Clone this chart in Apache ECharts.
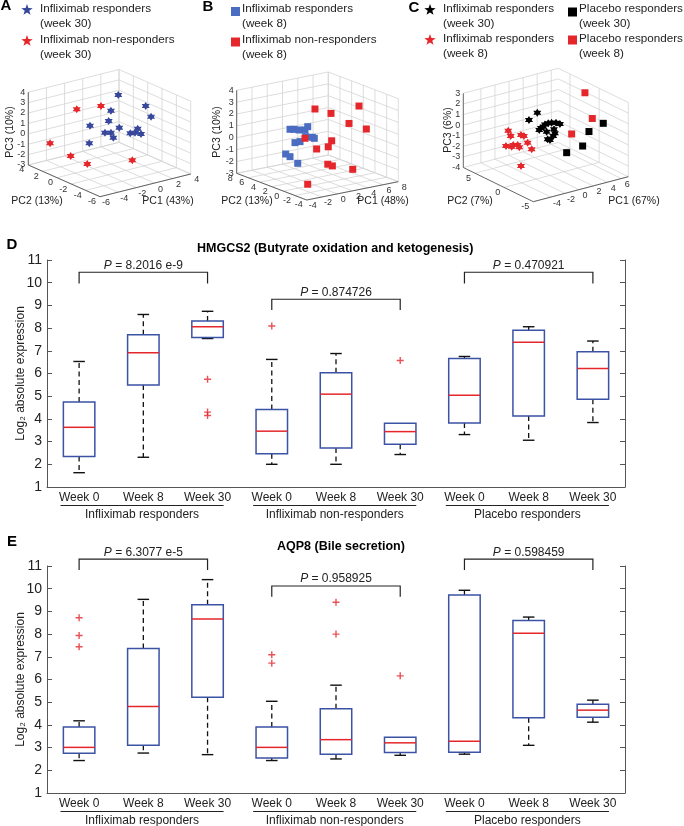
<!DOCTYPE html>
<html><head><meta charset="utf-8">
<script src="https://cdn.jsdelivr.net/npm/echarts@6/dist/echarts.min.js"></script>
<style>html,body{margin:0;padding:0;background:#fff}#c{width:684px;height:826px}</style>
</head><body><div id="c"></div>
<script>
// ---------------- DATA ----------------
// Panel A: PCA at week 30 (PC1, PC2, PC3)
const pcaA_responders = [[0.76,0,3.48],[-0.05,0,2.14],[-2.36,0,1.2],[-0.3,0,1.21],[0.87,0,0.31],[-0.71,0,0.17],[-0.05,0,0.03],[0.21,0,-0.51],[-2.44,0,-0.47],[2.2,-2,2.71],[2.79,-2,1.55],[0.5,-2,0.46],[1.02,-2,0.4],[1.32,-2,0.72],[1.68,-2,0.13]];
const pcaA_nonResponders = [[-1.15,0,2.84],[-2.24,2,2.14],[-5.18,2,-0.49],[-4.49,0,-1.24],[-4.24,-2,-1.46],[-0.86,-4,-1.23]];
const pcaA_limits = [[-6,4],[-6,4],[-3,4]];
const pcaA_ticks = [[-6,-4,-2,0,2,4],[-6,-4,-2,0,2,4],[-3,-2,-1,0,1,2,3,4]];
const pcaA_axisNames = ['PC1 (43%)','PC2 (13%)','PC3 (10%)'];
// Panel B: PCA at week 8
const pcaB_responders = [[-1.6,2,1.53],[-1.08,2,1.46],[-0.42,2,1.32],[0.36,2,1.22],[0.72,2,1.45],[0.46,2,0.64],[-0.29,2,0.32],[-0.95,2,0.32],[-2.17,2,-0.48],[-1.6,2,-0.78],[-0.59,2,-1.47],[1.32,2,0.48],[1.58,2,0.36]];
const pcaB_nonResponders = [[1.67,2,2.82],[2.24,0,2.75],[5.91,0,2.9],[4.6,0,1.6],[6.87,0,0.84],[0.36,2,0.52],[2.33,0,0.43],[0.36,0,-0.01],[1.88,0,-0.02],[0.29,-2,-0.91],[0.89,-2,-1.13],[3.56,-2,-1.76],[-2.34,-2,-2.26]];
const pcaB_limits = [[-4,8],[-4,8],[-3,4]];
const pcaB_ticks = [[-4,-2,0,2,4,6,8],[-4,-2,0,2,4,6,8],[-3,-2,-1,0,1,2,3,4]];
const pcaB_axisNames = ['PC1 (48%)','PC2 (13%)','PC3 (10%)'];
// Panel C: infliximab vs placebo responders
const pcaC_inflixWeek30 = [[-1.79,0,2.23],[-2.97,0,1.75],[-1.51,0,0.55],[-0.94,0,0.76],[-0.23,0,0.96],[0.25,0,0.93],[0.87,0,0.82],[1.43,0,0.6],[0.58,0,0.25],[-0.46,0,0.21],[-0.31,0,-0.54],[0.01,0,-0.66],[0.48,0,-0.36],[0.72,0,-0.15],[-0.7,0,0.93],[-1.27,0,0.7]];
const pcaC_inflixWeek8 = [[-4.26,2,0.43],[-3.91,2,-0.13],[-2.45,2,-0.3],[-2.03,2,-0.47],[-1.5,2,-1.19],[-4.58,2,-0.96],[-3.77,2,-1.17],[-3.55,2,-1.05],[-2.92,2,-1.16],[-2.69,2,-1.42],[-0.93,2,-1.91],[-2.45,2,-3.22]];
const pcaC_placeboWeek30 = [[5.1,-3,0.83],[3.07,-3,0.41],[2.17,-3,-0.8],[-0.1,-3,-1.03]];
const pcaC_placeboWeek8 = [[6.64,2,2.1],[3.54,-3,1.56],[0.61,-3,0.61]];
const pcaC_limits = [[-6.5,7],[-5,7],[-4,3]];
const pcaC_ticks = [[-4,-2,0,2,4,6],[-5,0,5],[-4,-3,-2,-1,0,1,2,3]];
const pcaC_axisNames = ['PC1 (67%)','PC2 (7%)','PC3 (6%)'];

// Panels D/E: box plots
const weekLabels = ['Week 0','Week 8','Week 30','Week 0','Week 8','Week 30','Week 0','Week 8','Week 30'];
const groupLabels = ['Infliximab responders','Infliximab non-responders','Placebo responders'];
const groupSpans = [[0,2],[3,5],[6,8]];
// [lower whisker, Q1, median, Q3, upper whisker]
const hmgcs2Boxes = [
  [1.63,2.34,3.63,4.74,6.53],[2.31,5.49,6.91,7.71,8.60],[7.54,7.59,8.06,8.31,8.74],
  [2.00,2.46,3.46,4.41,6.62],[2.00,2.72,5.09,6.03,6.88],[2.43,2.88,3.44,3.81,3.81],
  [3.31,3.82,5.04,6.66,6.75],[3.06,4.13,7.38,7.91,8.06],[3.84,4.87,6.22,6.96,7.43]];
const hmgcs2Outliers = [[2,5.75],[2,4.30],[2,4.15],[3,8.09],[5,6.57]];
const hmgcs2PValues = ['8.2016 e-9','0.874726','0.470921'];
const hmgcs2Brackets = [[0,2,10.46,9.97],[3,5,9.27,8.80],[6,8,10.46,9.97]];
const aqp8Boxes = [
  [2.43,2.75,3.01,3.91,4.18],[2.76,3.10,4.81,7.37,9.53],[2.69,5.22,8.66,9.29,10.40],
  [2.43,2.54,3.01,3.91,5.04],[2.50,2.71,3.35,4.71,5.75],[2.66,2.78,3.21,3.46,3.46],
  [2.71,2.79,3.28,9.72,9.93],[3.10,4.32,8.04,8.60,8.75],[4.12,4.34,4.65,4.91,5.09]];
const aqp8Outliers = [[0,8.72],[0,7.94],[0,7.44],[3,7.09],[3,6.72],[4,9.40],[4,8.00],[5,6.16]];
const aqp8PValues = ['6.3077 e-5','0.958925','0.598459'];
const aqp8Brackets = [[0,2,11.30,10.82],[3,5,10.12,9.65],[6,8,11.30,10.82]];
const yTicks = [1,11,1]; // min, max, step

// ---------------- LAYOUT / STYLE ----------------
const FONT = '"Liberation Sans", Arial, Helvetica, sans-serif';
const RED = '#e5262b', BLUE_A = '#36479c', BLUE_B = '#4a6dc2', BOXBLUE = '#3b52a5';
const pcaPanels = [
  {front:[100,196.7], right:[190.7,174], left:[28.3,165], height:72.8, lim:pcaA_limits, ticks:pcaA_ticks},
  {front:[306.7,200], right:[398.3,181.7], left:[236.7,173.3], height:83, lim:pcaB_limits, ticks:pcaB_ticks},
  {front:[533.3,201.7], right:[628.3,176.7], left:[463.3,167.5], height:74.2, lim:pcaC_limits, ticks:pcaC_ticks}
];
function project(P, p){
  const L = P.lim;
  const r1 = L[0][1]-L[0][0], r2 = L[1][1]-L[1][0], r3 = L[2][1]-L[2][0];
  const a = p[0]-L[0][0], b = p[1]-L[1][0], c = p[2]-L[2][0];
  const e1 = [(P.right[0]-P.front[0])/r1, (P.right[1]-P.front[1])/r1];
  const e2 = [(P.left[0]-P.front[0])/r2, (P.left[1]-P.front[1])/r2];
  const e3 = -P.height/r3;
  return [P.front[0]+a*e1[0]+b*e2[0], P.front[1]+a*e1[1]+b*e2[1]+c*e3];
}
const HEX = 'path://M0,-10L2.9,-5L8.66,-5L5.8,0L8.66,5L2.9,5L0,10L-2.9,5L-8.66,5L-5.8,0L-8.66,-5L-2.9,-5Z';
const STAR5_PTS = [[0,-10],[2.35,-3.24],[9.51,-3.09],[3.8,1.24],[5.88,8.09],[0,4],[-5.88,8.09],[-3.8,1.24],[-9.51,-3.09],[-2.35,-3.24]];
const PLUS = 'path://M-1,-5H1V-1H5V1H1V5H-1V1H-5V-1H-1Z';

function render3D(params, api){
  const P = pcaPanels[params.dataIndex];
  const pt = p => api.coord(project(P,p));
  const [X0,X1] = P.lim[0], [Y0,Y1] = P.lim[1], [Z0,Z1] = P.lim[2];
  const ch = [];
  const line = (a,b,stroke,w) => ch.push({type:'line', shape:{x1:a[0],y1:a[1],x2:b[0],y2:b[1]}, style:{stroke, lineWidth:w}});
  const g = '#d4d4d4';
  P.ticks[0].forEach(t => { line(pt([t,Y0,Z0]), pt([t,Y1,Z0]), g, 0.8); line(pt([t,Y1,Z0]), pt([t,Y1,Z1]), g, 0.8); });
  P.ticks[1].forEach(t => { line(pt([X0,t,Z0]), pt([X1,t,Z0]), g, 0.8); line(pt([X1,t,Z0]), pt([X1,t,Z1]), g, 0.8); });
  P.ticks[2].forEach(t => { line(pt([X0,Y1,t]), pt([X1,Y1,t]), g, 0.8); line(pt([X1,Y1,t]), pt([X1,Y0,t]), g, 0.8); });
  const ax = '#555';
  line(pt([X0,Y0,Z0]), pt([X1,Y0,Z0]), ax, 0.9);
  line(pt([X0,Y0,Z0]), pt([X0,Y1,Z0]), ax, 0.9);
  line(pt([X0,Y1,Z0]), pt([X0,Y1,Z1]), ax, 0.9);
  const txt = (x,y,s,align) => ch.push({type:'text', style:{text:String(s), x, y, align, verticalAlign:'middle', fontSize:9, fontFamily:FONT, fill:'#333'}});
  P.ticks[0].forEach(t => { const p = pt([t,Y0,Z0]); txt(p[0]+6, p[1]+6, t, 'center'); });
  P.ticks[1].forEach(t => { const p = pt([X0,t,Z0]); txt(p[0]-4, p[1]+5, t, 'right'); });
  P.ticks[2].forEach(t => { const p = pt([X0,Y1,t]); txt(p[0]-3, p[1], t, 'right'); });
  return {type:'group', children:ch};
}

function renderBox(params, api){
  const i = api.value(0);
  const lo = api.value(1), q1 = api.value(2), md = api.value(3), q3 = api.value(4), hi = api.value(5);
  const band = api.size([1,0])[0];
  const bw = band*0.49, cw = band*0.18;
  const pLo = api.coord([i,lo]), pQ1 = api.coord([i,q1]), pMd = api.coord([i,md]), pQ3 = api.coord([i,q3]), pHi = api.coord([i,hi]);
  const x = pMd[0];
  const ch = [];
  const dash = {stroke:'#111', lineWidth:1.3, lineDash:[5,3.5]};
  const cap = {stroke:'#111', lineWidth:1.4};
  if (hi > q3) {
    ch.push({type:'line', shape:{x1:x,y1:pQ3[1],x2:x,y2:pHi[1]}, style:dash});
    ch.push({type:'line', shape:{x1:x-cw/2,y1:pHi[1],x2:x+cw/2,y2:pHi[1]}, style:cap});
  }
  if (lo < q1) {
    ch.push({type:'line', shape:{x1:x,y1:pQ1[1],x2:x,y2:pLo[1]}, style:dash});
    ch.push({type:'line', shape:{x1:x-cw/2,y1:pLo[1],x2:x+cw/2,y2:pLo[1]}, style:cap});
  }
  ch.push({type:'rect', shape:{x:x-bw/2, y:pQ3[1], width:bw, height:pQ1[1]-pQ3[1]}, style:{fill:'none', stroke:BOXBLUE, lineWidth:1.5}});
  ch.push({type:'line', shape:{x1:x-bw/2,y1:pMd[1],x2:x+bw/2,y2:pMd[1]}, style:{stroke:RED, lineWidth:1.5}});
  return {type:'group', children:ch};
}
function makeBracket(pTexts){
  return function(params, api){
    const x1 = api.value(0), x2 = api.value(1), yl = api.value(2), ye = api.value(3);
    const a = api.coord([x1,yl]), b = api.coord([x2,yl]), ae = api.coord([x1,ye]), be = api.coord([x2,ye]);
    return {type:'group', children:[
      {type:'polyline', shape:{points:[ae,a,b,be]}, style:{stroke:'#222', lineWidth:1.2, fill:null}},
      {type:'text', style:{text:'{i|P} = '+pTexts[params.dataIndex], x:(a[0]+b[0])/2, y:a[1]-1, align:'center', verticalAlign:'bottom', fontSize:12, fontFamily:FONT, fill:'#222', rich:{i:{fontStyle:'italic', fontSize:12, fontFamily:FONT, fill:'#222'}}}}
    ]};
  };
}
function renderGroup(params, api){
  const a = api.value(0), b = api.value(1);
  const band = api.size([1,0])[0];
  const p1 = api.coord([a,yTicks[0]]), p2 = api.coord([b,yTicks[0]]);
  const y = p1[1] + 18.5;
  const xa = p1[0]-band*0.29, xb = p2[0]+band*0.25;
  return {type:'group', children:[
    {type:'line', shape:{x1:xa,y1:y,x2:xb,y2:y}, style:{stroke:'#222', lineWidth:1}},
    {type:'text', style:{text:groupLabels[params.dataIndex], x:(xa+xb)/2, y:y+3, align:'center', verticalAlign:'top', fontSize:12, fontFamily:FONT, fill:'#222'}}
  ]};
}

function boxXAxis(gi){
  return {gridIndex:gi, type:'category', data:weekLabels, boundaryGap:true,
    axisLine:{show:true, lineStyle:{color:'#555', width:1}}, axisTick:{show:false},
    axisLabel:{color:'#222', fontSize:12, fontFamily:FONT, margin:5, interval:0}, splitLine:{show:false}};
}
function boxYAxis(gi, right){
  const ax = {gridIndex:gi, type:'value', min:yTicks[0], max:yTicks[1], interval:yTicks[2], position: right ? 'right' : 'left',
    axisLine:{show:true, onZero:false, lineStyle:{color:'#555', width:1}},
    axisTick:{show:true, inside:true, length:5, lineStyle:{color:'#555'}},
    axisLabel:{show:!right, color:'#222', fontSize:14, fontFamily:FONT, margin:5},
    splitLine:{show:false}};
  if (!right) Object.assign(ax, {name:'Log\u2082 absolute expression', nameLocation:'middle', nameRotate:90, nameGap:20, nameMoveOverlap:false,
    nameTextStyle:{fontSize:12, color:'#222', fontFamily:FONT}});
  return ax;
}

const chart = echarts.init(document.getElementById('c'), null, {renderer:'canvas', width:684, height:826});

function legendItem(kind, color, cx, cy, size, tx, ty, text){
  const icon = kind === 'star'
    ? {type:'polygon', shape:{points:STAR5_PTS.map(p => [cx + p[0]*size/20, cy + p[1]*size/20])}, style:{fill:color}}
    : {type:'rect', shape:{x:cx-size/2, y:cy-size/2, width:size, height:size}, style:{fill:color}};
  return [icon,
    {type:'text', x:tx, y:ty, style:{text, fill:'#222', fontSize:11.7, fontFamily:FONT, lineHeight:14.5, align:'left', verticalAlign:'top'}}];
}
function gtext(x, y, text, opts){
  return {type:'text', x, y, style:Object.assign({text, fill:'#222', fontSize:10.5, fontFamily:FONT, align:'center', verticalAlign:'middle'}, opts||{})};
}
const bold = {fontSize:15, fontWeight:'bold', fill:'#000'};
const graphics = [].concat(
  [gtext(6,6,'A',bold), gtext(208,7,'B',bold), gtext(414,8,'C',bold)],
  legendItem('star', BLUE_A, 27, 10, 12, 40, 2, 'Infliximab responders\n(week 30)'),
  legendItem('star', RED, 27, 41, 12, 40, 33, 'Infliximab non-responders\n(week 30)'),
  legendItem('sq', BLUE_B, 235.5, 11.5, 9, 242, 2, 'Infliximab responders\n(week 8)'),
  legendItem('sq', RED, 235.5, 42, 9, 242, 33, 'Infliximab non-responders\n(week 8)'),
  legendItem('star', '#000', 430, 10, 12, 443, 2, 'Infliximab responders\n(week 30)'),
  legendItem('star', RED, 430, 40, 12, 443, 32, 'Infliximab responders\n(week 8)'),
  legendItem('sq', '#000', 572.5, 12, 9, 579, 2, 'Placebo responders\n(week 30)'),
  legendItem('sq', RED, 572.5, 40, 9, 579, 32, 'Placebo responders\n(week 8)'),
  [gtext(168,201,pcaA_axisNames[0]), gtext(37,201,pcaA_axisNames[1]), Object.assign(gtext(10,132,pcaA_axisNames[2]),{rotation:Math.PI/2}),
   gtext(383,201,pcaB_axisNames[0]), gtext(247,201,pcaB_axisNames[1]), Object.assign(gtext(217,132,pcaB_axisNames[2]),{rotation:Math.PI/2}),
   gtext(634,201,pcaC_axisNames[0]), gtext(470,201,pcaC_axisNames[1]), Object.assign(gtext(448,130,pcaC_axisNames[2]),{rotation:Math.PI/2})],
  [gtext(12,245,'D',bold), gtext(12,542,'E',bold),
   gtext(197,249,'HMGCS2 (Butyrate oxidation and ketogenesis)',{fontSize:12.5,fontWeight:'bold',fill:'#000',align:'left'}),
   gtext(277,547,'AQP8 (Bile secretion)',{fontSize:12.5,fontWeight:'bold',fill:'#000',align:'left'})]
);

const scatter = (name, data, panel, symbol, color, size) => ({name, type:'scatter', xAxisIndex:0, yAxisIndex:0, z:3,
  data:data.map(p => project(pcaPanels[panel], p)), symbol, symbolSize:size, itemStyle:{color, opacity:1}, silent:true});

const option = {
  animation:false,
  backgroundColor:'#fff',
  textStyle:{fontFamily:FONT},
  grid:[
    {left:0, top:0, width:684, height:220},
    {left:47, top:260, width:578, height:227},
    {left:47, top:566, width:578, height:227}
  ],
  xAxis:[
    {gridIndex:0, type:'value', min:0, max:684, show:false},
    boxXAxis(1), boxXAxis(2)
  ],
  yAxis:[
    {gridIndex:0, type:'value', min:0, max:220, inverse:true, show:false},
    boxYAxis(1,false), boxYAxis(1,true), boxYAxis(2,false), boxYAxis(2,true)
  ],
  graphic:graphics,
  series:[
    {type:'custom', xAxisIndex:0, yAxisIndex:0, data:[[0,0],[1,0],[2,0]], renderItem:render3D, clip:false, silent:true, z:1},
    scatter('A responders', pcaA_responders, 0, HEX, BLUE_A, 8),
    scatter('A non-responders', pcaA_nonResponders, 0, HEX, RED, 8),
    scatter('B responders', pcaB_responders, 1, 'rect', BLUE_B, 7),
    scatter('B non-responders', pcaB_nonResponders, 1, 'rect', RED, 7),
    scatter('C inflix w30', pcaC_inflixWeek30, 2, HEX, '#000', 8),
    scatter('C inflix w8', pcaC_inflixWeek8, 2, HEX, RED, 8),
    scatter('C placebo w30', pcaC_placeboWeek30, 2, 'rect', '#000', 7),
    scatter('C placebo w8', pcaC_placeboWeek8, 2, 'rect', RED, 7),
    // D
    {type:'custom', xAxisIndex:1, yAxisIndex:1, data:hmgcs2Boxes.map((b,i)=>[i].concat(b)), encode:{x:0, y:[1,2,3,4,5]}, renderItem:renderBox, silent:true, z:2},
    {type:'scatter', xAxisIndex:1, yAxisIndex:1, data:hmgcs2Outliers, symbol:PLUS, symbolSize:7, itemStyle:{color:RED}, silent:true, z:3},
    {type:'custom', xAxisIndex:1, yAxisIndex:1, data:hmgcs2Brackets, encode:{x:[0,1], y:[2,3]}, renderItem:makeBracket(hmgcs2PValues), clip:false, silent:true},
    {type:'custom', xAxisIndex:1, yAxisIndex:1, data:groupSpans.map(s=>[s[0],s[1],yTicks[0]]), encode:{x:[0,1], y:2}, renderItem:renderGroup, clip:false, silent:true},
    // E
    {type:'custom', xAxisIndex:2, yAxisIndex:3, data:aqp8Boxes.map((b,i)=>[i].concat(b)), encode:{x:0, y:[1,2,3,4,5]}, renderItem:renderBox, silent:true, z:2},
    {type:'scatter', xAxisIndex:2, yAxisIndex:3, data:aqp8Outliers, symbol:PLUS, symbolSize:7, itemStyle:{color:RED}, silent:true, z:3},
    {type:'custom', xAxisIndex:2, yAxisIndex:3, data:aqp8Brackets, encode:{x:[0,1], y:[2,3]}, renderItem:makeBracket(aqp8PValues), clip:false, silent:true},
    {type:'custom', xAxisIndex:2, yAxisIndex:3, data:groupSpans.map(s=>[s[0],s[1],yTicks[0]]), encode:{x:[0,1], y:2}, renderItem:renderGroup, clip:false, silent:true}
  ]
};
chart.setOption(option);
</script></body></html>
